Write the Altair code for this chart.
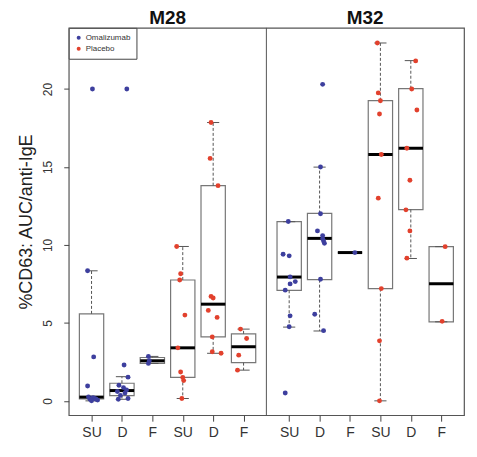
import altair as alt
import pandas as pd

panel_names = ["M28", "M32"]
tick_labels = ["SU", "D", "F", "SU", "D", "F"]
treatments = ["Omalizumab", "Placebo"]
colors = ["#3d3f9e", "#e2412d"]

group_panel = ["M28"] * 6 + ["M32"] * 6
group_slot = [1, 2, 3, 4, 5, 6] * 2
group_treat = (["Omalizumab"] * 3 + ["Placebo"] * 3) * 2

box_q1 = [0.12, 0.34, 2.40, 1.50, 4.10, 2.45, 7.09, 7.77, 9.51, 7.20, 12.27, 5.07]
box_med = [0.24, 0.66, 2.57, 3.40, 6.20, 3.47, 7.94, 10.42, 9.51, 15.80, 16.20, 7.51]
box_q3 = [5.58, 1.13, 2.78, 7.75, 13.80, 4.30, 11.49, 12.02, 9.51, 19.25, 20.02, 9.89]
whisk_lo = [0.00, 0.10, 2.40, 0.15, 3.05, 1.97, 4.73, 4.48, 9.51, 0.00, 9.13, 5.07]
whisk_hi = [8.34, 1.55, 2.85, 9.90, 17.85, 4.60, 11.49, 14.99, 9.51, 22.95, 21.82, 9.89]

m28_oma_su = [20.0, 8.34, 2.82, 0.95, 0.25, 0.20, 0.15, 0.10, 0.05, 0.0, 0.10]
m28_oma_su_jit = [0.03, -0.13, 0.07, -0.13, -0.10, 0.05, 0.10, -0.05, 0.20, 0.0, 0.15]
m28_oma_d = [20.0, 2.30, 1.52, 1.00, 0.85, 0.70, 0.60, 0.50, 0.35, 0.15, 0.10]
m28_oma_d_jit = [0.16, 0.07, 0.20, -0.10, 0.05, 0.15, -0.15, 0.10, -0.05, 0.20, -0.12]
m28_oma_f = [2.85, 2.57, 2.40]
m28_oma_f_jit = [-0.13, -0.10, -0.13]
m28_pla_su = [9.90, 8.15, 7.75, 5.50, 3.40, 1.85, 1.50, 1.30, 0.15]
m28_pla_su_jit = [-0.20, -0.07, -0.10, 0.07, -0.16, -0.07, 0.0, 0.03, -0.03]
m28_pla_d = [17.85, 15.55, 13.80, 6.70, 6.60, 5.80, 5.35, 4.10, 3.15, 3.05]
m28_pla_d_jit = [-0.07, -0.10, 0.16, -0.07, 0.0, -0.16, 0.13, -0.03, -0.03, 0.26]
m28_pla_f = [4.60, 4.00, 2.93, 1.97]
m28_pla_f_jit = [-0.10, 0.10, -0.16, -0.20]
m32_oma_su = [11.50, 9.40, 9.30, 7.95, 7.65, 7.50, 7.10, 5.45, 4.75, 0.50]
m32_oma_su_jit = [-0.03, -0.20, 0.0, 0.03, 0.20, 0.03, -0.13, 0.03, 0.0, -0.13]
m32_oma_d = [20.30, 15.00, 12.00, 10.90, 10.60, 10.40, 10.25, 10.10, 7.80, 5.55, 4.50]
m32_oma_d_jit = [0.10, 0.03, 0.03, -0.07, 0.10, 0.10, 0.13, 0.16, 0.03, -0.16, 0.13]
m32_oma_f = [9.51]
m32_oma_f_jit = [0.16]
m32_pla_su = [22.95, 19.75, 19.25, 18.40, 15.80, 13.00, 7.20, 3.85, 0.00]
m32_pla_su_jit = [-0.10, -0.07, 0.0, -0.03, 0.03, -0.07, 0.03, -0.03, -0.03]
m32_pla_d = [21.80, 20.00, 18.65, 16.20, 14.15, 12.25, 10.90, 9.15]
m32_pla_d_jit = [0.16, 0.03, 0.20, -0.13, -0.03, -0.16, -0.03, -0.13]
m32_pla_f = [9.89, 5.10]
m32_pla_f_jit = [0.13, 0.03]

point_sets = [
    (m28_oma_su, m28_oma_su_jit), (m28_oma_d, m28_oma_d_jit), (m28_oma_f, m28_oma_f_jit),
    (m28_pla_su, m28_pla_su_jit), (m28_pla_d, m28_pla_d_jit), (m28_pla_f, m28_pla_f_jit),
    (m32_oma_su, m32_oma_su_jit), (m32_oma_d, m32_oma_d_jit), (m32_oma_f, m32_oma_f_jit),
    (m32_pla_su, m32_pla_su_jit), (m32_pla_d, m32_pla_d_jit), (m32_pla_f, m32_pla_f_jit),
]

PANEL_SHIFT = 6.5


def slot_pos(panel, slot):
    return slot + (PANEL_SHIFT if panel == "M32" else 0.0)


box_df = pd.DataFrame({
    "panel": group_panel, "slot": group_slot, "treat": group_treat,
    "q1": box_q1, "med": box_med, "q3": box_q3, "lo": whisk_lo, "hi": whisk_hi,
})
box_df["pos"] = [slot_pos(p, s) for p, s in zip(group_panel, group_slot)]

rows = []
for gi, (vals, jits) in enumerate(point_sets):
    for v, j in zip(vals, jits):
        rows.append({"treat": group_treat[gi], "value": v,
                     "x": slot_pos(group_panel[gi], group_slot[gi]) + j})
pts_df = pd.DataFrame(rows)

title_df = pd.DataFrame({"panel": panel_names,
                         "pos": [3.5, 3.5 + PANEL_SHIFT]})
divider_df = pd.DataFrame({"x": [6.5 + 0.25]})

tick_values = [slot_pos(p, s) for p in panel_names for s in range(1, 7)]

xscale = alt.Scale(domain=[0.25, 13.25], nice=False, zero=False)
yscale = alt.Scale(domain=[-0.92, 23.92], nice=False, zero=False)

xaxis = alt.Axis(values=tick_values, tickCount=30, title=None, grid=False, domain=False,
                 tickSize=6, tickColor="#444", labelFontSize=14, labelColor="#333",
                 labelPadding=4, labelOverlap=False, labelFlush=False,
                 labelExpr="['','SU','D','F','SU','D','F'][round(datum.value > 7 ? datum.value - 6.5 : datum.value)]")
yaxis = alt.Axis(values=[0, 5, 10, 15, 20], title="%CD63: AUC/anti-IgE", grid=False,
                 domain=False, tickSize=5, tickColor="#444", labelAngle=270,
                 labelAlign="center", labelBaseline="bottom", labelFontSize=12,
                 labelColor="#333", labelPadding=9, labelOverlap=False,
                 titleFontSize=18, titleFontWeight="normal", titleColor="#222",
                 titlePadding=6)

base_box = alt.Chart(box_df).transform_calculate(
    xl="datum.pos - 0.4", xr="datum.pos + 0.4",
    sl="datum.pos - 0.2", sr="datum.pos + 0.2")

boxes = base_box.mark_rect(fill="white", stroke="#777", strokeWidth=1.2).encode(
    x=alt.X("xl:Q", scale=xscale, axis=xaxis), x2="xr:Q",
    y=alt.Y("q1:Q", scale=yscale, axis=yaxis), y2="q3:Q")

whisk_up = base_box.mark_rule(color="#555", strokeDash=[3, 2], strokeWidth=1).encode(
    x="pos:Q", y="q3:Q", y2="hi:Q")
whisk_dn = base_box.mark_rule(color="#555", strokeDash=[3, 2], strokeWidth=1).encode(
    x="pos:Q", y="q1:Q", y2="lo:Q")
staple_up = base_box.mark_rule(color="#555", strokeWidth=1).encode(
    x="sl:Q", x2="sr:Q", y="hi:Q")
staple_dn = base_box.mark_rule(color="#555", strokeWidth=1).encode(
    x="sl:Q", x2="sr:Q", y="lo:Q")
medians = base_box.mark_rule(color="black", strokeWidth=3).encode(
    x="xl:Q", x2="xr:Q", y="med:Q")

points = alt.Chart(pts_df).mark_circle(size=24, opacity=1).encode(
    x="x:Q", y="value:Q",
    color=alt.Color("treat:N", scale=alt.Scale(domain=treatments, range=colors),
                    legend=alt.Legend(orient="top-left", offset=0, title=None,
                                      strokeColor="#444", padding=6, fillColor="white",
                                      labelFontSize=8, labelColor="#333",
                                      symbolType="circle", symbolSize=16,
                                      symbolStrokeWidth=0, rowPadding=3,
                                      labelOffset=3, symbolOffset=0)))

divider = alt.Chart(divider_df).mark_rule(color="#555", strokeWidth=1).encode(x="x:Q")

titles = alt.Chart(title_df).mark_text(fontSize=19, fontWeight="bold", color="#111",
                                       baseline="alphabetic").encode(
    x="pos:Q", y=alt.value(-4), text="panel:N")

chart = alt.layer(boxes, whisk_up, whisk_dn, staple_up, staple_dn, medians, points,
                  divider, titles).properties(
    width=397, height=389,
    autosize=alt.AutoSizeParams(type="none"),
    padding={"left": 61, "top": 19, "right": 5, "bottom": 35},
).configure(font="Liberation Sans").configure_view(stroke="#555", strokeWidth=1.2)

chart.save("out.html", embed_options={"renderer": "svg", "actions": False})
